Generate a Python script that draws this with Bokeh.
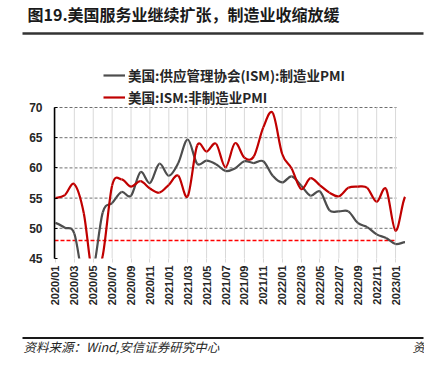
import numpy as np
from bokeh.plotting import figure
from bokeh.models import FixedTicker, Legend, LegendItem, Range1d
from bokeh.core.properties import value
from bokeh.embed import file_html
from bokeh.resources import INLINE

# ---------------- data ----------------
months = ["2020/01", "2020/02", "2020/03", "2020/04", "2020/05", "2020/06",
          "2020/07", "2020/08", "2020/09", "2020/10", "2020/11", "2020/12",
          "2021/01", "2021/02", "2021/03", "2021/04", "2021/05", "2021/06",
          "2021/07", "2021/08", "2021/09", "2021/10", "2021/11", "2021/12",
          "2022/01", "2022/02", "2022/03", "2022/04", "2022/05", "2022/06",
          "2022/07", "2022/08", "2022/09", "2022/10", "2022/11", "2022/12",
          "2023/01", "2023/02"]
ism_mfg = [50.9, 50.1, 49.1, 41.5, 43.1, 52.6, 54.2, 56.0, 55.4, 59.3, 57.5, 60.7,
           58.7, 60.8, 64.7, 60.7, 61.2, 60.6, 59.5, 59.9, 61.1, 60.8, 61.1, 58.7,
           57.6, 58.6, 57.1, 55.4, 56.1, 53.0, 52.8, 52.8, 50.9, 50.2, 49.0, 48.4,
           47.4, 47.7]
ism_nonmfg = [55.0, 55.5, 57.3, 52.5, 41.8, 45.4, 57.1, 58.1, 56.9, 57.8, 56.6, 55.9,
              57.2, 58.7, 55.3, 63.7, 62.7, 64.0, 60.1, 64.1, 61.7, 61.9, 66.7, 69.1,
              62.3, 59.9, 56.5, 58.3, 57.1, 55.9, 55.3, 56.7, 56.9, 56.7, 54.4, 56.5,
              49.6, 55.2]
tick_idx = list(range(0, 37, 2))
y_ticks = [45, 50, 55, 60, 65, 70]
grid_ticks = [50, 55, 60, 65, 70]
y_lo, y_hi = 45, 70
ref_level = 48

name_mfg = "美国:供应管理协会(ISM):制造业PMI"
name_non = "美国:ISM:非制造业PMI"
title_text = "图19.美国服务业继续扩张，制造业收缩放缓"
source_text = "资料来源：Wind,安信证券研究中心"

CJK = "Noto Sans CJK SC"
LAT = "Liberation Sans"

# ---------------- canvas geometry ----------------
W, H = 424, 367
plot_left, plot_right = 54, 396      # pixel edges of the chart band
plot_top, plot_bottom = 107, 258     # pixel rows of 70 and 45
x_lo, x_hi = -0.1, len(months) - 1 - 0.9
kx = (plot_right - plot_left) / (x_hi - x_lo)
ky = (plot_bottom - plot_top) / (y_hi - y_lo)
xr = Range1d(x_lo - plot_left / kx, x_lo + (W - plot_left) / kx)
yr = Range1d(y_hi - (H - plot_top) / ky, y_hi + plot_top / ky)


def px(x):  # pixel column -> data x (for annotations outside the chart band)
    return xr.start + x / kx


def py(y):  # pixel row -> data y
    return yr.end - y / ky


p = figure(width=W, height=H, output_backend="svg", toolbar_location=None,
           x_range=xr, y_range=yr,
           min_border=0, min_border_left=0, min_border_right=0,
           min_border_top=0, min_border_bottom=0)
p.outline_line_color = None
p.background_fill_color = "white"
p.border_fill_color = "white"

# axes pinned inside the canvas
p.yaxis.fixed_location = x_lo
p.yaxis.ticker = FixedTicker(ticks=y_ticks)
p.yaxis.bounds = (y_lo, y_hi)
p.yaxis.axis_line_color = "black"
p.yaxis.axis_line_width = 1.5
p.yaxis.major_tick_in = 3
p.yaxis.major_tick_out = 0
p.yaxis.major_tick_line_color = "black"
p.yaxis.minor_tick_line_color = None
p.yaxis.major_label_standoff = 12
p.yaxis.major_label_text_font = LAT
p.yaxis.major_label_text_font_style = "bold"
p.yaxis.major_label_text_font_size = "12px"
p.yaxis.major_label_text_color = "#262626"

p.xaxis.fixed_location = y_lo
p.xaxis.ticker = FixedTicker(ticks=tick_idx)
p.xaxis.major_label_overrides = {i: months[i] for i in tick_idx}
p.xaxis.major_label_orientation = np.pi / 2
p.xaxis.axis_line_color = None
p.xaxis.major_tick_in = 0
p.xaxis.major_tick_out = 4
p.xaxis.major_tick_line_color = "#d9d9d9"
p.xaxis.minor_tick_line_color = None
p.xaxis.major_label_standoff = 3
p.xaxis.major_label_text_font = LAT
p.xaxis.major_label_text_font_style = "bold"
p.xaxis.major_label_text_font_size = "11px"
p.xaxis.major_label_text_color = "#262626"

p.grid.visible = False

# white band that hides the parts of the curves running below the 45 line
# (drawn first as background of the lower area, curves are masked by a second band)
n_g = len(grid_ticks)
p.segment(x0=[x_lo] * n_g, y0=grid_ticks, x1=[x_hi] * n_g, y1=grid_ticks,
          line_color="#6e6e6e", line_dash="3 2", line_width=1)
n_t = len(tick_idx)
p.segment(x0=tick_idx, y0=[y_lo] * n_t, x1=tick_idx, y1=[y_hi] * n_t,
          line_color="#d9d9d9", line_width=1)
p.segment(x0=[x_lo], y0=[ref_level], x1=[x_hi], y1=[ref_level],
          line_color="#ff0000", line_dash="4 2", line_width=1.5)


def bezier_segments(vals):
    v = np.asarray(vals, dtype=float)
    n = len(v)
    x = np.arange(n, dtype=float)
    vp = np.concatenate([[v[0]], v, [v[-1]]])
    x0, x1 = x[:-1], x[1:]
    y0, y1 = v[:-1], v[1:]
    cy0 = y0 + (vp[2:n + 1] - vp[0:n - 1]) / 6.0
    cy1 = y1 - (vp[3:n + 2] - vp[1:n]) / 6.0
    return dict(x0=x0, y0=y0, x1=x1, y1=y1, cx0=x0 + 1 / 3, cy0=cy0,
                cx1=x1 - 1 / 3, cy1=cy1)


r_mfg = p.bezier(line_color="#4d4d4d", line_width=2.2, **bezier_segments(ism_mfg))
r_non = p.bezier(line_color="#c00000", line_width=2.2, **bezier_segments(ism_nonmfg))
# mask only the strip between the 45 line and the source rule
p.quad(left=[x_lo - 0.2], right=[x_hi], top=[y_lo], bottom=[py(300)],
       fill_color="white", line_color=None)

legend = Legend(items=[LegendItem(label=name_mfg, renderers=[r_mfg]),
                       LegendItem(label=name_non, renderers=[r_non])],
                location=(103, H - plot_top), orientation="vertical",
                padding=0, margin=0, spacing=2, glyph_width=22, glyph_height=20,
                label_standoff=3, label_text_font=CJK, label_text_font_style="bold",
                label_text_font_size="13.5px", label_text_color="#262626",
                background_fill_alpha=0, border_line_color=None)
p.add_layout(legend, "center")

# header rule + title
p.segment(x0=[px(22)], y0=[py(33)], x1=[px(423)], y1=[py(33)],
          line_color="#333333", line_width=2.5)
p.text(x=[px(27)], y=[py(13)], text=[title_text], text_font=value(CJK),
       text_font_style="bold", text_font_size="16px", text_baseline="middle",
       text_align="left", text_color="#1a1a1a")

# source rule + text
p.segment(x0=[px(22)], y0=[py(337.5)], x1=[px(423)], y1=[py(337.5)],
          line_color="#1a1a1a", line_width=2)
p.text(x=[px(23)], y=[py(346)], text=[source_text], text_font=value(CJK),
       text_font_style="italic", text_font_size="12.5px", text_baseline="middle",
       text_align="left", text_color="#262626")
p.text(x=[px(412)], y=[py(346)], text=["资"], text_font=value(CJK),
       text_font_style="italic", text_font_size="12.5px", text_baseline="middle",
       text_align="left", text_color="#262626")

open("out.html", "w").write(file_html(p, INLINE))
